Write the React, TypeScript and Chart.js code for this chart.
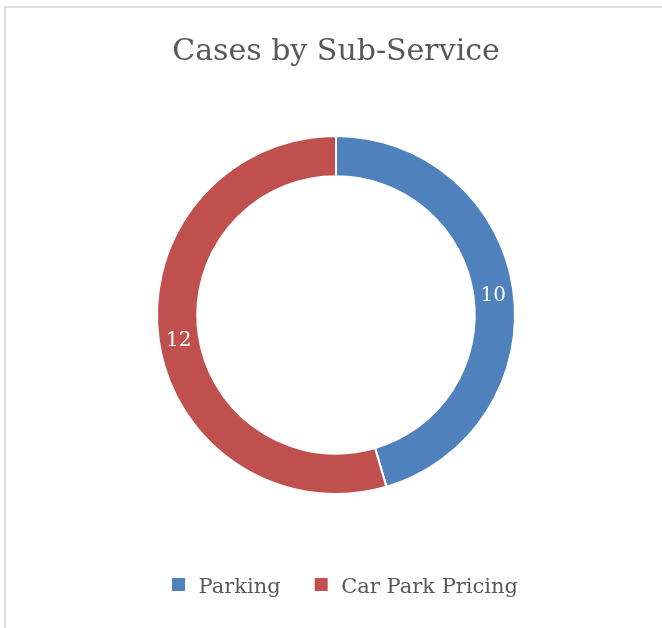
import React, { useEffect, useRef } from "react";
import { Chart, registerables } from "chart.js";

Chart.register(...registerables);

const categories: string[] = ["Parking", "Car Park Pricing"];
const values: number[] = [10, 12];
const colors: string[] = ["#4F81BD", "#C0504D"];
const titleText = "Cases by Sub-Service";

const valueLabels = {
  id: "valueLabels",
  afterDatasetsDraw(chart: any) {
    const ctx = chart.ctx;
    const meta = chart.getDatasetMeta(0);
    ctx.save();
    ctx.fillStyle = "#ffffff";
    ctx.font = "20px 'DejaVu Serif'";
    ctx.textAlign = "center";
    ctx.textBaseline = "middle";
    meta.data.forEach((arc: any, i: number) => {
      const p = arc.tooltipPosition();
      ctx.fillText(String(chart.data.datasets[0].data[i]), p.x, p.y + 3);
    });
    ctx.restore();
  },
};

// shift legend block slightly right and draw its colour boxes a bit higher than text
const legendTweak = {
  id: "legendTweak",
  afterLayout(chart: any) {
    const lg = chart.legend;
    if (lg) {
      lg.left += 9;
      lg.right += 9;
    }
  },
  afterDraw(chart: any) {
    const lg = chart.legend;
    if (!lg || !lg.legendHitBoxes) return;
    const ctx = chart.ctx;
    ctx.save();
    lg.legendHitBoxes.forEach((hb: any, i: number) => {
      ctx.fillStyle = colors[i];
      const cy = hb.top + hb.height / 2 - 3;
      ctx.fillRect(hb.left, Math.round(cy - 6.5), 13, 13);
    });
    ctx.restore();
  },
};

export default function App() {
  const ref = useRef<HTMLCanvasElement | null>(null);
  useEffect(() => {
    if (!ref.current) return;
    const chart = new Chart(ref.current, {
      type: "doughnut",
      data: {
        labels: categories,
        datasets: [
          {
            data: values,
            backgroundColor: colors,
            borderColor: "#ffffff",
            borderWidth: 2,
            radius: 179,
            cutout: "77.5%",
          } as any,
        ],
      },
      plugins: [valueLabels, legendTweak],
      options: {
        responsive: false,
        animation: false,
        layout: { padding: { left: 10, right: 0, top: 0, bottom: 20 } },
        plugins: {
          tooltip: { enabled: false },
          title: {
            display: true,
            text: titleText,
            color: "#595959",
            font: { family: "'DejaVu Serif'", size: 30, weight: "normal", lineHeight: 1.2 },
            padding: { top: 34, bottom: 17 },
          },
          legend: {
            position: "bottom",
            labels: {
              color: "#595959",
              font: { family: "'DejaVu Serif'", size: 21 },
              boxWidth: 16,
              boxHeight: 13,
              padding: 34,
              generateLabels: () =>
                categories.map((name, i) => ({
                  text: name,
                  fillStyle: "rgba(0,0,0,0)",
                  strokeStyle: "rgba(0,0,0,0)",
                  lineWidth: 0,
                  hidden: false,
                  index: i,
                  fontColor: "#595959",
                })),
            },
          },
        },
      },
    });
    return () => chart.destroy();
  }, []);
  return (
    <div style={{ position: "fixed", left: 0, top: 0, width: 662, height: 628, background: "#ffffff", overflow: "hidden" }}>
      <div
        style={{
          position: "absolute",
          left: 4,
          top: 6,
          width: 700,
          height: 700,
          borderTop: "2px solid #dedede",
          borderLeft: "2px solid #dedede",
        }}
      />
      <canvas ref={ref} width={662} height={628} style={{ position: "absolute", left: 0, top: 0 }} />
    </div>
  );
}
